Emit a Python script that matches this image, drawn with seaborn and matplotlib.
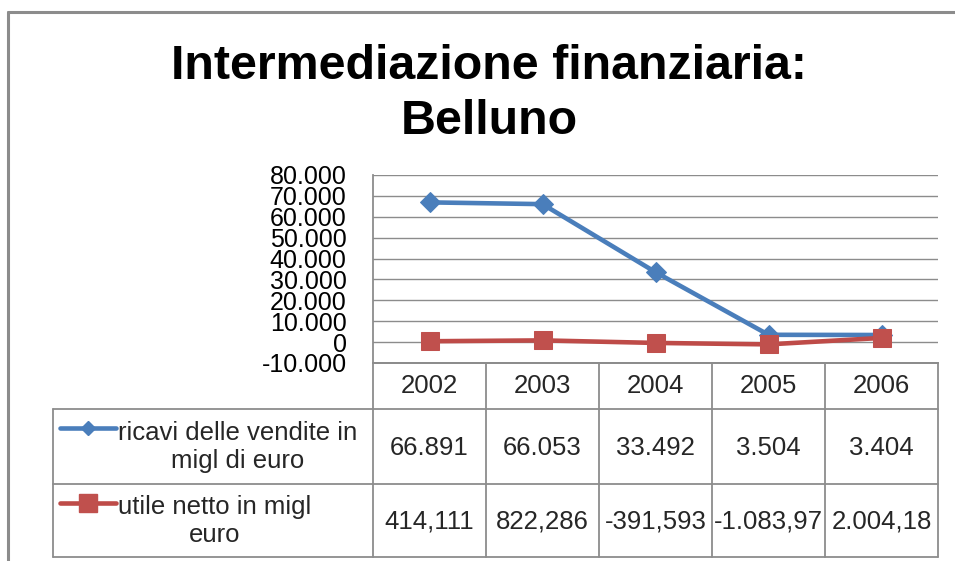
import matplotlib
matplotlib.use("Agg")
import matplotlib.pyplot as plt
from matplotlib.lines import Line2D
import seaborn as sns
import pandas as pd

# ---- data ----
anni = [2002, 2003, 2004, 2005, 2006]
ricavi = [66891, 66053, 33492, 3504, 3404]
utile = [414.111, 822.286, -391.593, -1083.97, 2004.18]
ricavi_txt = ["66.891", "66.053", "33.492", "3.504", "3.404"]
utile_txt = ["414,111", "822,286", "-391,593", "-1.083,97", "2.004,18"]
serie = ["ricavi delle vendite in\nmigl di euro", "utile netto in migl\neuro"]
yticks = [-10000, 0, 10000, 20000, 30000, 40000, 50000, 60000, 70000, 80000]
titolo = ["Intermediazione finanziaria:", "Belluno"]

BLUE = "#4A7EBB"
RED = "#BE4B48"
RED_FILL = "#C0504D"
GRID = "#8C8C8C"

sns.set_theme(style="white")
plt.rcParams["font.family"] = ["Liberation Sans", "DejaVu Sans"]

W, H = 955, 561
fig = plt.figure(figsize=(W / 100, H / 100), dpi=100)


def fx(px):
    return px / W


def fy(py):
    return 1 - py / H


# plot area in pixels
L, R, T, B = 373, 938, 175, 363
ax = fig.add_axes([fx(L), fy(B), fx(R) - fx(L), fy(T) - fy(B)])

df = pd.DataFrame({"anno": anni, "ricavi": ricavi, "utile": utile})
sns.lineplot(data=df, x="anno", y="ricavi", ax=ax, color=BLUE, lw=3.3,
             marker="D", markersize=10, markerfacecolor=BLUE,
             markeredgecolor=BLUE, zorder=3)
sns.lineplot(data=df, x="anno", y="utile", ax=ax, color=RED, lw=3.3,
             marker="s", markersize=13.5, markerfacecolor=RED_FILL,
             markeredgecolor=RED_FILL, zorder=4)

ax.set_xlim(anni[0] - 0.5, anni[-1] + 0.5)
ax.set_ylim(yticks[0], yticks[-1])
ax.set_yticks(yticks)
ax.set_yticklabels([f"{v:,}".replace(",", ".") for v in yticks],
                   fontsize=18, color="black")
ax.set_xticks([])
ax.set_xlabel("")
ax.set_ylabel("")
ax.tick_params(axis="y", length=0, pad=19)
ax.yaxis.grid(True, color=GRID, lw=1.0)
ax.set_axisbelow(True)
for s in ["right", "top"]:
    ax.spines[s].set_visible(False)
for s in ["left", "bottom"]:
    ax.spines[s].set_color(GRID)
    ax.spines[s].set_linewidth(1.3)
ax.patch.set_alpha(0)

# ---- outer chart frame ----
fw = 2.2
fig.add_artist(Line2D([fx(8), fx(8)], [fy(12), fy(561)], color=GRID, lw=fw))
fig.add_artist(Line2D([fx(8), fx(955)], [fy(12), fy(12)], color=GRID, lw=fw))

# ---- title ----
fig.text(fx(489), fy(79), titolo[0], ha="center", va="baseline",
         fontsize=34.8, fontweight="bold", color="black")
fig.text(fx(489), fy(134), titolo[1], ha="center", va="baseline",
         fontsize=34.8, fontweight="bold", color="black")

# ---- data table ----
TL = 53
rows_y = [363, 409, 484, 557]
colw = (R - L) / len(anni)
tlw = 1.3
# horizontal lines
fig.add_artist(Line2D([fx(L), fx(R)], [fy(rows_y[0])] * 2, color=GRID, lw=tlw))
for yy in rows_y[1:]:
    fig.add_artist(Line2D([fx(TL), fx(R)], [fy(yy)] * 2, color=GRID, lw=tlw))
# vertical lines
for k in range(len(anni) + 1):
    xx = L + k * colw
    fig.add_artist(Line2D([fx(xx)] * 2, [fy(rows_y[0]), fy(rows_y[-1])],
                          color=GRID, lw=tlw))
fig.add_artist(Line2D([fx(TL)] * 2, [fy(rows_y[1]), fy(rows_y[-1])],
                      color=GRID, lw=tlw))

fs = 18.5
for k, a in enumerate(anni):
    cx = L + (k + 0.5) * colw
    fig.text(fx(cx), fy(386), str(a), ha="center", va="center", fontsize=fs)
    fig.text(fx(cx), fy(448), ricavi_txt[k], ha="center", va="center", fontsize=fs)
    fig.text(fx(cx), fy(521), utile_txt[k], ha="center", va="center", fontsize=fs)

# legend keys + series labels
fig.add_artist(Line2D([fx(60), fx(116)], [fy(428)] * 2, color=BLUE, lw=3.3))
fig.add_artist(Line2D([fx(88)], [fy(428)], marker="D", markersize=7.5,
                      color=BLUE, lw=0))
fig.add_artist(Line2D([fx(60), fx(116)], [fy(503)] * 2, color=RED, lw=3.3))
fig.add_artist(Line2D([fx(88)], [fy(503)], marker="s", markersize=12.5,
                      color=RED_FILL, lw=0))

fig.text(fx(118), fy(447), serie[0], ha="left", va="center", fontsize=fs,
         multialignment="center", linespacing=1.25)
fig.text(fx(118), fy(521), serie[1], ha="left", va="center", fontsize=fs,
         multialignment="center", linespacing=1.2)

fig.savefig("out.png", dpi=100)
